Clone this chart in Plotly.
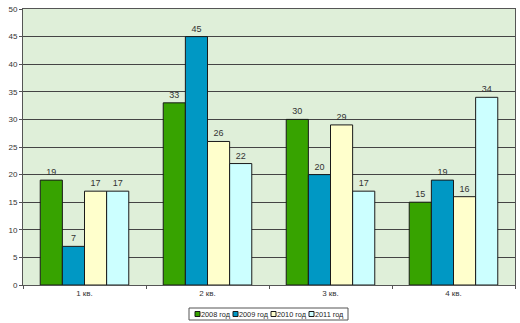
import plotly.graph_objects as go

quarters = ["1 кв.", "2 кв.", "3 кв.", "4 кв."]
y2008 = [19, 33, 30, 15]
y2009 = [7, 45, 20, 19]
y2010 = [17, 26, 29, 16]
y2011 = [17, 22, 17, 34]
series_names = ["2008 год", "2009 год", "2010 год", "2011 год"]
y_ticks = [0, 5, 10, 15, 20, 25, 30, 35, 40, 45, 50]

colors = ["#37A300", "#0098C4", "#FFFFCC", "#CCFFFF"]

W, H = 520, 323
ML, MR, MT, MB = 23, 5, 9, 38
PW, PH = W - ML - MR, H - MT - MB


def px_x(x):
    return (x - ML) / PW


def px_y(y):
    return (H - MB - y) / PH


fig = go.Figure()
for name, vals, col in zip(series_names, [y2008, y2009, y2010, y2011], colors):
    fig.add_trace(go.Bar(
        x=quarters, y=vals, name=name,
        marker=dict(color=col, line=dict(color="#1a1a1a", width=1)),
        text=[str(v) for v in vals], textposition="outside",
        textfont=dict(size=9, color="#333333", family="Arial"),
        cliponaxis=False,
    ))

# Compact boxed legend below the plot
legend_left, legend_right = 189, 348
legend_top, legend_bottom = 308, 320
shapes = [dict(
    type="rect", xref="paper", yref="paper",
    x0=px_x(legend_left), x1=px_x(legend_right),
    y0=px_y(legend_bottom), y1=px_y(legend_top),
    line=dict(color="#555555", width=1), fillcolor="white", layer="above",
)]
annotations = []
item_x = [195, 233, 271, 309]
for sx, name, col in zip(item_x, series_names, colors):
    shapes.append(dict(
        type="rect", xref="paper", yref="paper",
        x0=px_x(sx), x1=px_x(sx + 5), y0=px_y(316.5), y1=px_y(311.5),
        line=dict(color="#1a1a1a", width=1), fillcolor=col, layer="above",
    ))
    annotations.append(dict(
        xref="paper", yref="paper", x=px_x(sx + 4), y=px_y(314),
        xanchor="left", yanchor="middle", text=name, showarrow=False,
        font=dict(size=7.3, color="#222222", family="Arial"),
    ))

fig.update_layout(
    width=W, height=H,
    margin=dict(l=ML, r=MR, t=MT, b=MB),
    paper_bgcolor="white",
    plot_bgcolor="#DFEFD9",
    barmode="group", bargap=0.28, bargroupgap=0,
    font=dict(family="Arial", size=8, color="#333333"),
    showlegend=False,
    shapes=shapes,
    annotations=annotations,
)
fig.update_xaxes(
    showgrid=False, showline=True, linecolor="#555555", linewidth=1,
    mirror=True, ticks="outside", tickson="boundaries", ticklen=3,
    tickcolor="#555555", tickfont=dict(size=8),
)
fig.update_yaxes(
    range=[0, 50], tickvals=y_ticks, showgrid=True, gridcolor="#444444",
    gridwidth=1, showline=True, linecolor="#555555", linewidth=1, mirror=True,
    ticks="outside", ticklen=3, tickcolor="#555555", tickfont=dict(size=8),
    zeroline=False,
)

fig.write_html("out.html")
